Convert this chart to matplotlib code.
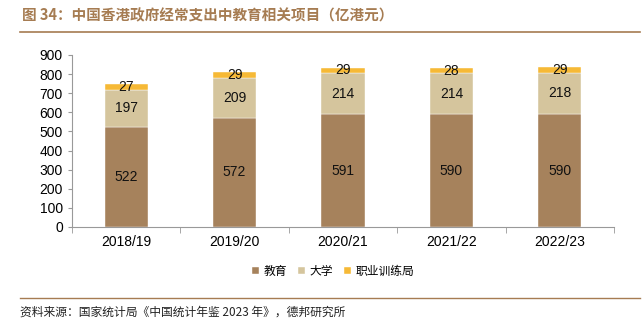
import matplotlib
matplotlib.use('Agg')
import matplotlib.pyplot as plt
import numpy as np

plt.rcParams['font.family'] = ['Noto Sans CJK SC', 'DejaVu Sans']

years = ['2018/19', '2019/20', '2020/21', '2021/22', '2022/23']
edu = [522, 572, 591, 590, 590]
univ = [197, 209, 214, 214, 218]
vtc = [27, 29, 29, 28, 29]

colors = ['#A6825C', '#D5C59D', '#F6B936']
labels = ['教育', '大学', '职业训练局']

fig = plt.figure(figsize=(6.43, 3.29), dpi=100)
ax = fig.add_axes([72 / 643, 1 - 227 / 329, (614 - 72) / 643, (227 - 55) / 329])

x = np.arange(len(years))
bottom = np.zeros(len(years))
for vals, c, lab in zip([edu, univ, vtc], colors, labels):
    ax.bar(x, vals, 0.4, bottom=bottom, color=c, label=lab, edgecolor='white', linewidth=0.3)
    for xi, b, v in zip(x, bottom, vals):
        ax.text(xi, b + v / 2, str(v), ha='center', va='center', fontsize=10,
                family='Liberation Sans', color='#111111')
    bottom += np.array(vals)

ax.set_xlim(-0.5, len(years) - 0.5)
ax.set_ylim(0, 900)
ax.set_yticks(range(0, 901, 100))
ax.set_xticks(x)
ax.set_xticklabels(years)
ax.set_xticks(np.arange(-0.5, len(years)), minor=True)
ax.tick_params(axis='x', which='major', length=0, pad=6)
ax.tick_params(axis='x', which='minor', length=4, color='#999999')
ax.tick_params(axis='y', length=3, color='#999999')
for lab in ax.get_xticklabels() + ax.get_yticklabels():
    lab.set_family('Liberation Sans')
    lab.set_fontsize(10)
for s in ['top', 'right']:
    ax.spines[s].set_visible(False)
ax.spines['left'].set_color('#999999')
ax.spines['bottom'].set_color('#999999')

fig.legend(loc='center', bbox_to_anchor=(333 / 643, 1 - 271 / 329), ncol=3, frameon=False,
           fontsize=8.5, handlelength=0.6, handleheight=0.6, handletextpad=0.4, columnspacing=0.9)

fig.text(22 / 643, 1 - 15 / 329, '图 34：中国香港政府经常支出中教育相关项目（亿港元）',
         fontsize=10.5, color='#A67C52', fontweight='bold', va='center')
fig.add_artist(plt.Line2D([20 / 643, 640 / 643], [1 - 32 / 329] * 2, color='#A67C52', lw=1.2))
fig.add_artist(plt.Line2D([20 / 643, 640 / 643], [1 - 298 / 329] * 2, color='#A67C52', lw=1.0))
fig.text(20 / 643, 1 - 312 / 329, '资料来源：国家统计局《中国统计年鉴 2023 年》，德邦研究所',
         fontsize=8.5, color='#222222', va='center')

fig.savefig('out.png', dpi=100)
